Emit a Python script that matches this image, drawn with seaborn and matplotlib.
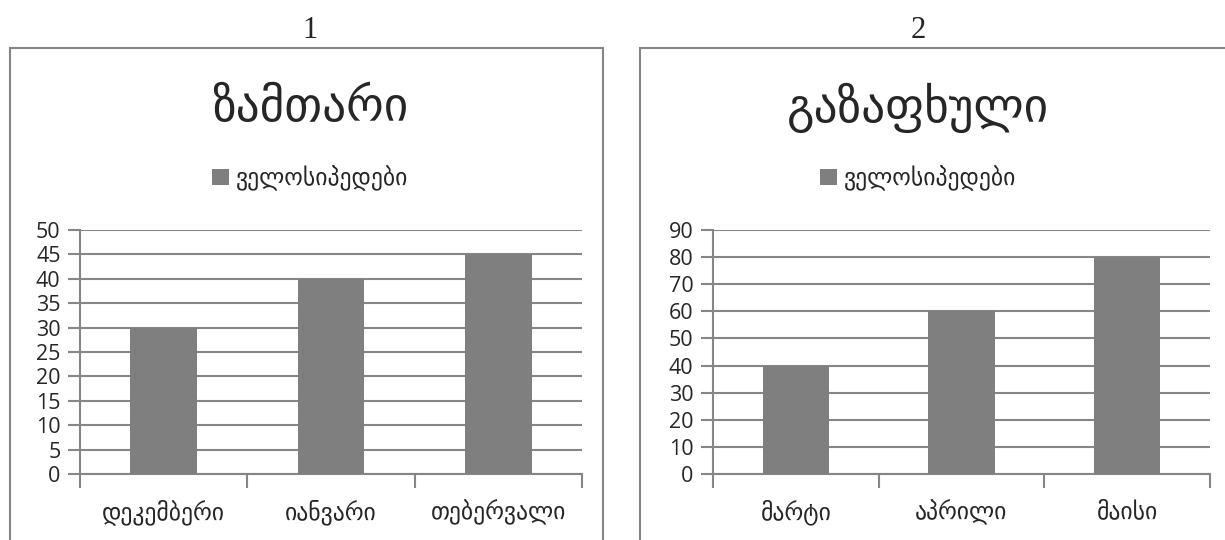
import matplotlib
matplotlib.use("Agg")
import pandas as pd
import seaborn as sns
import matplotlib.pyplot as plt
from matplotlib.patches import Rectangle, Patch

# data
winter_months = ["დეკემბერი", "იანვარი", "თებერვალი"]
winter_values = [30, 40, 45]
spring_months = ["მარტი", "აპრილი", "მაისი"]
spring_values = [40, 60, 80]
series_name = "ველოსიპედები"
titles = ["ზამთარი", "გაზაფხული"]
panel_numbers = ["1", "2"]

bar_color = "#7f7f7f"
line_color = "#868686"
geo_font = ["DejaVu Sans"]
num_font = ["Open Sans", "DejaVu Sans"]

sns.set_style("white")
plt.rcParams["font.family"] = ["DejaVu Sans"]

fig = plt.figure(figsize=(12.25, 5.4), dpi=100)

# outer chart frames
for x0 in [10 / 1225, 640 / 1225]:
    fig.patches.append(Rectangle((x0, -0.1), 0.484, 1.011, transform=fig.transFigure,
                                 fill=False, edgecolor=line_color, lw=1.5))


def draw(ax, months, values, ymax, step, title, num, cx):
    df = pd.DataFrame({"month": months, "value": values})
    sns.barplot(data=df, x="month", y="value", color=bar_color, width=0.4,
                saturation=1, linewidth=0, ax=ax, zorder=3)
    ax.set_xlim(-0.5, len(months) - 0.5)
    ax.set_ylim(0, ymax)
    ax.set_yticks(range(0, ymax + 1, step))
    ax.yaxis.grid(True, color=line_color, lw=1.5, zorder=0)
    ax.set_axisbelow(True)
    for s in ["top", "right"]:
        ax.spines[s].set_visible(False)
    for s in ["left", "bottom"]:
        ax.spines[s].set_color(line_color)
        ax.spines[s].set_linewidth(1.5)
    ax.set_xlabel("")
    ax.set_ylabel("")
    ax.tick_params(axis="y", length=9, width=1.5, color=line_color, left=True, pad=5)
    ax.tick_params(axis="x", which="major", length=0, pad=18)
    ax.set_xticks([i - 0.5 for i in range(len(months) + 1)], minor=True)
    ax.tick_params(axis="x", which="minor", length=10, width=1.5, color=line_color,
                   bottom=True, direction="out")
    for lbl in ax.get_yticklabels():
        lbl.set_fontfamily(num_font)
        lbl.set_fontsize(15.5)
    for lbl in ax.get_xticklabels():
        lbl.set_fontfamily(geo_font)
        lbl.set_fontsize(17)
    fig.text(cx, 0.944, num, ha="center", va="center", fontsize=22,
             family=["Liberation Serif"])
    fig.text(cx, 0.80, title, ha="center", va="center", fontsize=34, family=geo_font)
    handle = Patch(facecolor=bar_color, edgecolor="none")
    fig.legend([handle], [series_name], loc="center", bbox_to_anchor=(cx, 0.67),
               frameon=False, prop={"family": geo_font, "size": 17},
               handlelength=0.7, handleheight=0.7, handletextpad=0.3)


ax1 = fig.add_axes([80 / 1225, 0.1222, 502 / 1225, 0.452])
ax2 = fig.add_axes([713 / 1225, 0.1222, 497 / 1225, 0.452])

draw(ax1, winter_months, winter_values, 50, 5, titles[0], panel_numbers[0], 310 / 1225)
draw(ax2, spring_months, spring_values, 90, 10, titles[1], panel_numbers[1], 918 / 1225)

fig.savefig("out.png", dpi=100)
